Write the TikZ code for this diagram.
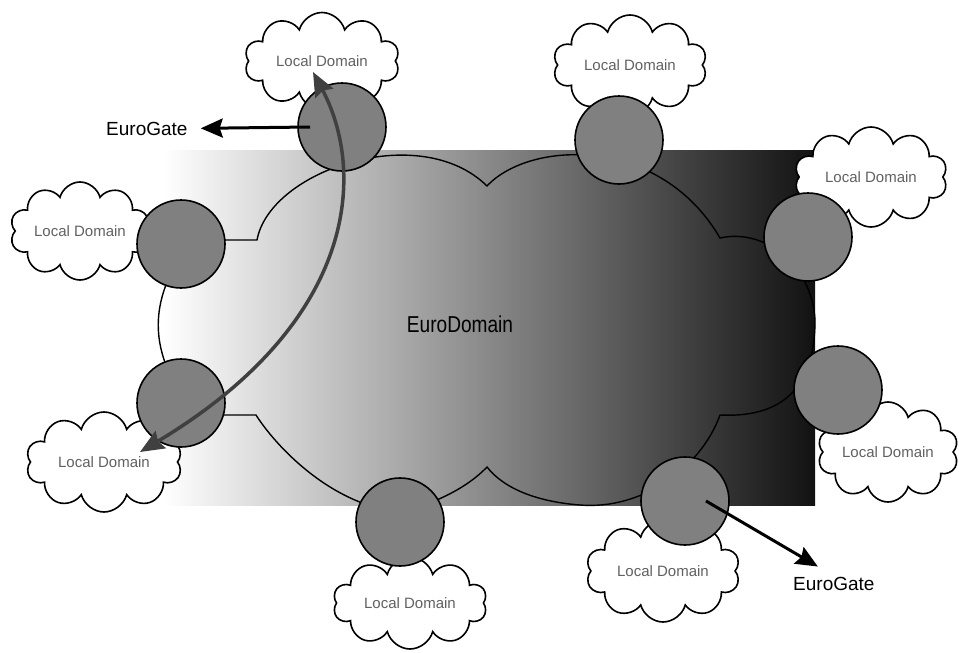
\documentclass[tikz,border=0pt]{standalone}
\usepackage{fontspec}
\setmainfont{Liberation Sans}
\newfontfamily\narrowsans[FakeStretch=0.83]{Liberation Sans}
\usepackage{tikz}
\usetikzlibrary{shapes.symbols, arrows.meta, positioning}

\begin{document}
\begin{tikzpicture}[x=1pt, y=-1pt,
    ldcloud/.style={cloud, cloud puffs=10, cloud ignores aspect, draw, fill=white,
      line width=1.6pt, inner sep=0pt},
    ldtext/.style={font=\fontsize{15}{18}\selectfont, text=black!62},
    gw/.style={circle, draw, fill=gray, line width=1.6pt, minimum size=88pt, inner sep=0pt},
    gatetext/.style={font=\fontsize{19}{22}\selectfont, inner sep=3pt},
    gatearrow/.style={arrows={-Stealth[length=22pt,width=19pt,inset=3pt]}, line width=3pt},
    swaparrow/.style={arrows={Stealth[length=24pt,width=20pt,inset=3pt]-Stealth[length=24pt,width=20pt,inset=3pt]},
      line width=3.5pt, draw=black!75}]
    \useasboundingbox (0,0) rectangle (959,653);
    \shade[left color=white, right color=black!93] (163,150) rectangle (815,505);
    % outline of the EuroDomain cloud
    \draw[line width=1.4pt]
      (257,240) .. controls (270,170) and (420,120) .. (487,186)
      .. controls (530,140) and (660,135) .. (720,238)
      .. controls (765,228) and (812,265) .. (815,320)
      .. controls (815,390) and (780,418) .. (720,415)
      .. controls (700,470) and (640,510) .. (580,505)
      .. controls (540,502) and (505,490) .. (487,467)
      .. controls (465,490) and (430,505) .. (400,512)
      .. controls (330,505) and (275,445) .. (256,415)
      -- (190,415) -- (168,370)
      .. controls (155,340) and (155,310) .. (168,280)
      -- (190,240) -- cycle;
    \node[font=\narrowsans\fontsize{23}{27}\selectfont, anchor=base] (ed) at (460,332) {EuroDomain};

    \node[ldcloud, minimum width=155pt, minimum height=97pt, label={[ldtext]center:Local Domain}] (ldA) at (322,61) {};
    \node[ldcloud, minimum width=140pt, minimum height=98pt, label={[ldtext]center:Local Domain}] (ldB) at (80,231) {};
    \node[ldcloud, minimum width=156pt, minimum height=100pt, label={[ldtext]center:Local Domain}] (ldC) at (104,462) {};
    \node[ldcloud, minimum width=154pt, minimum height=92pt, label={[ldtext]center:Local Domain}] (ldD) at (410,603) {};
    \node[ldcloud, minimum width=154pt, minimum height=102pt, label={[ldtext]center:Local Domain}] (ldE) at (663,571) {};
    \node[ldcloud, minimum width=141pt, minimum height=100pt, label={[ldtext]center:Local Domain}] (ldF) at (888,452) {};
    \node[ldcloud, minimum width=153pt, minimum height=100pt, label={[ldtext]center:Local Domain}] (ldG) at (871,177) {};
    \node[ldcloud, minimum width=154pt, minimum height=100pt, label={[ldtext]center:Local Domain}] (ldH) at (630,65) {};

    \node[gw] (g1) at (342,127) {};
    \node[gw] (g2) at (181,244) {};
    \node[gw] (g3) at (181,403) {};
    \node[gw] (g4) at (400,522) {};
    \node[gw] (g5) at (685,501) {};
    \node[gw] (g6) at (838,390) {};
    \node[gw] (g7) at (808,237) {};
    \node[gw] (g8) at (619,140) {};

    \node[gatetext, anchor=base west] (eg1) at (103,135) {EuroGate};
    \node[gatetext, anchor=base west] (eg2) at (790,590) {EuroGate};
    \draw[gatearrow, shorten >=10pt] ([xshift=-32pt]g1.center) -- (eg1.east);
    \draw[gatearrow] ([xshift=21pt]g5.center) -- ([shift={(-16,-7)}]eg2.north);

    \draw[swaparrow] ([shift={(-9,11)}]ldA.center) .. controls (365,170) and (360,320) .. ([shift={(36,-10)}]ldC.center);
\end{tikzpicture}
\end{document}
